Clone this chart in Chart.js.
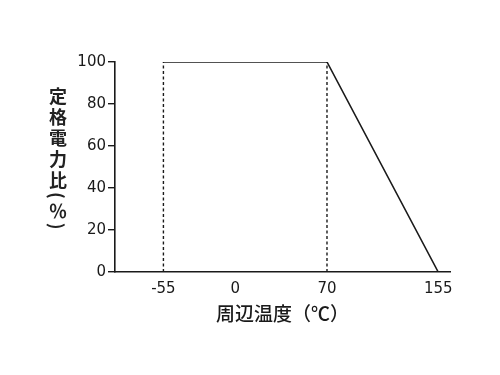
<!DOCTYPE html>
<html>
<head>
<meta charset="utf-8">
<script src="https://cdn.jsdelivr.net/npm/chart.js@4"></script>
<style>
    body { margin: 0; background: #fff; }
    #wrap { position: relative; width: 500px; height: 375px; }
    #ytitle {
        position: absolute; left: 49px; top: 87px;
        writing-mode: vertical-rl;
        font-family: "Noto Sans CJK JP", sans-serif;
        font-size: 18px; font-weight: 700; line-height: 1;
        letter-spacing: 3px; color: #222;
    }
</style>
</head>
<body>
<div id="wrap">
    <canvas id="canvas" width="500" height="375"></canvas>
    <div id="ytitle">定格電力比(％)</div>
</div>
<script>
    // derating curve: temperature (°C) vs rated power ratio (%)
    var xTicks = [-55, 0, 70, 155];
    var yTicks = [0, 20, 40, 60, 80, 100];
    var curveTemp = [-55, 70, 155];
    var curveRatio = [100, 100, 0];
    var guideTemp = [-55, 70];
    var guideRatio = [0, 100];

    var ink = '#1a1a1a';

    var datasets = [{
        label: 'curve',
        data: curveTemp.map(function(t, i) { return {x: t, y: curveRatio[i]}; }),
        borderColor: ink,
        borderWidth: 1.6,
        pointRadius: 0,
        tension: 0
    }];
    guideTemp.forEach(function(t) {
        datasets.push({
            label: 'guide ' + t,
            data: guideRatio.map(function(r) { return {x: t, y: r}; }),
            borderColor: ink,
            borderWidth: 1.4,
            borderDash: [3, 2.5],
            pointRadius: 0
        });
    });

    var tickFont = {family: '"DejaVu Sans", sans-serif', size: 15};

    window.onload = function() {
        var ctx = document.getElementById("canvas").getContext("2d");
        new Chart(ctx, {
            type: 'line',
            data: {datasets: datasets},
            options: {
                responsive: false,
                devicePixelRatio: 1,
                animation: false,
                layout: {padding: {left: 0, right: 50, top: 62, bottom: 46}},
                plugins: {legend: {display: false}, tooltip: {enabled: false}},
                scales: {
                    x: {
                        type: 'linear',
                        min: -92,
                        max: 164,
                        afterBuildTicks: function(scale) {
                            scale.ticks = xTicks.map(function(v) { return {value: v}; });
                        },
                        afterFit: function(scale) { scale.height = 57; },
                        grid: {display: false, drawTicks: false},
                        border: {display: true, color: ink, width: 1.6},
                        ticks: {color: ink, font: tickFont, padding: 8, autoSkip: false, maxRotation: 0},
                        title: {
                            display: true,
                            text: '周辺温度（℃）',
                            color: ink,
                            font: {family: '"Noto Sans CJK JP", sans-serif', size: 19, weight: '500'},
                            padding: {top: 0, bottom: 4}
                        }
                    },
                    y: {
                        min: 0,
                        max: 100,
                        afterBuildTicks: function(scale) {
                            scale.ticks = yTicks.map(function(v) { return {value: v}; });
                        },
                        afterFit: function(scale) { scale.width = 115; },
                        grid: {drawOnChartArea: false, color: ink, lineWidth: 1.4, tickLength: 7},
                        border: {display: true, color: ink, width: 1.6},
                        ticks: {color: ink, font: tickFont, padding: 2}
                    }
                }
            }
        });
    };
</script>
</body>
</html>
